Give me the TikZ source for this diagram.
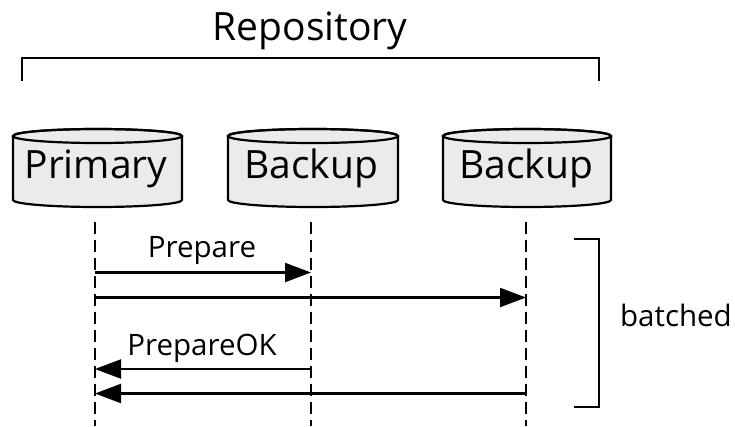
\documentclass[tikz,border=0pt]{standalone}
\usepackage{fontspec}
\setmainfont{Open Sans}
\usetikzlibrary{arrows.meta}

% a database drum: centre x, half width
\newcommand\dbdrum[2]{%
  \filldraw[drumbody] ({#1-#2},-136) -- ({#1-#2},-200)
    arc[start angle=180,end angle=360,x radius=#2pt,y radius=7pt]
    -- ({#1+#2},-136)
    arc[start angle=0,end angle=180,x radius=#2pt,y radius=7pt] -- cycle;
  \draw ({#1},-136) ellipse[x radius=#2pt,y radius=7pt];%
}

\begin{document}
\begin{tikzpicture}[x=1pt,y=1pt,line width=2.2pt,
  msglabel/.style={inner sep=0pt,anchor=base,font=\fontsize{29.5}{32}\selectfont},
  dbtext/.style={inner sep=0pt,anchor=base,font=\fontsize{39}{42}\selectfont},
  lifeline/.style={dash pattern=on 12pt off 6pt},
  msg/.style={-{Triangle[length=26pt,width=19pt]}},
  drumbody/.style={fill=black!8,draw=black}]
\useasboundingbox (0,0) rectangle (735,-426);

% repository bracket
\node[dbtext] (repo) at (310,-40) {Repository};
\coordinate (rl) at (22,-81);
\coordinate (rr) at (599,-81);
\draw (rl) |- (310,-58) -| (rr);

% the three replicas
\dbdrum{97.5}{84.5}
\dbdrum{313}{85}
\dbdrum{527}{84}
\node[dbtext] (primary) at (96,-178) {Primary};
\node[dbtext] (backupA) at (311,-178) {Backup};
\node[dbtext] (backupB) at (526,-178) {Backup};

% lifelines
\coordinate (pT) at (95,-222);   \coordinate (pB) at (95,-426);
\coordinate (aT) at (311,-222);  \coordinate (aB) at (311,-426);
\coordinate (bT) at (526,-222);  \coordinate (bB) at (526,-426);
\draw[lifeline] (pT) -- (pB);
\draw[lifeline] (aT) -- (aB);
\draw[lifeline] (bT) -- (bB);

% messages
\coordinate (p1) at (95,-272.5);  \coordinate (a1) at (311,-272.5);
\coordinate (p2) at (95,-297.5);  \coordinate (b2) at (526,-297.5);
\coordinate (p3) at (95,-369);    \coordinate (a3) at (311,-369);
\coordinate (p4) at (95,-393.5);  \coordinate (b4) at (526,-393.5);
\draw[msg] (p1) -- (a1);
\draw[msg] (p2) -- (b2);
\draw[msg] (a3) -- (p3);
\draw[msg] (b4) -- (p4);
\node[msglabel] (prep) at (202,-257) {Prepare};
\node[msglabel] (prepok) at (202,-355) {PrepareOK};

% batched bracket
\coordinate (bt) at (574,-239);
\coordinate (bb) at (574,-407);
\draw (bt) -| (599,-323) |- (bb);
\node[msglabel,anchor=base west] (batched) at (619,-326) {batched};
\end{tikzpicture}
\end{document}
